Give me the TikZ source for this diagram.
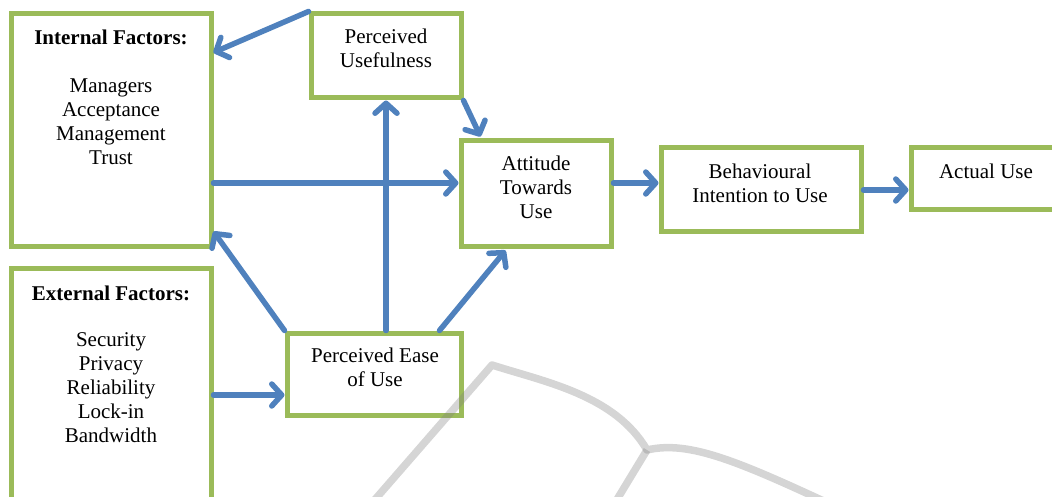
\documentclass[tikz,border=0pt]{standalone}
\usepackage{fontspec}
\setmainfont{Liberation Serif}
\usetikzlibrary{arrows.meta}
\definecolor{boxgreen}{HTML}{9BBB59}
\definecolor{arrblue}{HTML}{4F81BD}
\tikzset{
  box/.style={draw=boxgreen, line width=5pt, fill=white, rectangle, inner sep=0pt},
  txt/.style={align=center, inner sep=0pt, anchor=north, font=\fontsize{21}{24}\selectfont},
  arr/.style={draw=arrblue, line width=5.5pt, line cap=round,
     -{Straight Barb[length=10pt,width=22pt,round]}},
  wmark/.style={draw=gray, opacity=0.33, line width=7.5pt, line join=round}
}
\begin{document}
\begin{tikzpicture}[x=1pt,y=-1pt]
\useasboundingbox (0,0) rectangle (1052,497);
% boxes
\node[box, minimum width=200pt, minimum height=232pt] (int) at (111,130) {};
\node[box, minimum width=150pt, minimum height=84pt] (pu) at (386,56) {};
\node[box, minimum width=150pt, minimum height=105pt] (att) at (536,193.5) {};
\node[box, minimum width=200pt, minimum height=84pt] (bi) at (761,190) {};
\node[box, minimum width=160pt, minimum height=62pt] (act) at (991,179) {};
\node[box, minimum width=200pt, minimum height=242pt] (ext) at (111,389) {};
\node[box, minimum width=174pt, minimum height=82pt] (peou) at (374,374) {};
% texts
\node[txt] (intT) at (111,30) {\textbf{Internal Factors:}\\[24pt]Managers\\Acceptance\\Management\\Trust};
\node[txt] (puT) at (386,29) {Perceived\\Usefulness};
\node[txt] (attT) at (536,156) {Attitude\\Towards\\Use};
\node[txt] (biT) at (760,164) {Behavioural\\Intention to Use};
\node[txt] (actT) at (986,164) {Actual Use};
\node[txt] (extT) at (111,286) {\textbf{External Factors:}\\[22pt]Security\\Privacy\\Reliability\\Lock-in\\Bandwidth};
\node[txt] (peouT) at (375,348) {Perceived Ease\\of Use};
% connectors
\coordinate (intR) at ([yshift=-53pt]int.east);
\coordinate (extR) at ([yshift=-6pt]ext.east);
\coordinate (attR) at ([yshift=10.5pt]att.east);
\draw[arr] (pu.north west) -- ([yshift=-41pt]int.north east);
\draw[arr] (pu.south east) -- ([xshift=22pt,yshift=2pt]att.north west);
\draw[arr] (intR) -- (intR -| att.west);
\draw[arr] (peou.north west) -- ([yshift=17pt]int.south east);
\draw[arr] (pu.south |- peou.north) -- (pu.south);
\draw[arr] ([xshift=-24pt]peou.north east) -- ([xshift=47pt,yshift=-2pt]att.south west);
\draw[arr] (extR) -- (extR -| peou.west);
\draw[arr] (attR) -- (attR -| bi.west);
\draw[arr] (bi.east) -- (bi.east -| act.west);
% watermark
\draw[wmark] (365,511) -- (492,365) .. controls (545,382) and (615,395) .. (647,450)
   .. controls (690,440) and (740,462) .. (845,511);
\draw[wmark] (647,450) -- (610,511);
\end{tikzpicture}
\end{document}
